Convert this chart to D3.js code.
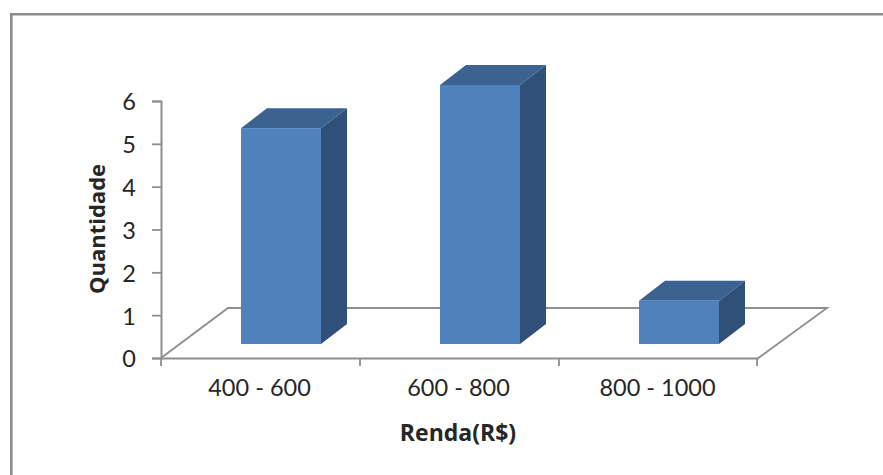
<!DOCTYPE html>
<html>
<head>
<meta charset="utf-8">
<script src="https://cdn.jsdelivr.net/npm/d3@7"></script>
<style>
  html, body { margin: 0; padding: 0; background: #fff; }
  svg { display: block; }
  text { font-family: Lato, "Open Sans", sans-serif; fill: #262626; }
</style>
</head>
<body>
<svg id="chart" width="883" height="475"></svg>
<script>
const categories = ["400 - 600", "600 - 800", "800 - 1000"];
const values = [5, 6, 1];
const yTicks = [0, 1, 2, 3, 4, 5, 6];
const xTitle = "Renda(R$)";
const yTitle = "Quantidade";

const svg = d3.select("#chart");

// Chart frame: left and top edges only
svg.append("path")
  .attr("d", "M11.3,475V14.3H883")
  .attr("fill", "none").attr("stroke", "#8c8c8c").attr("stroke-width", 2.6);

// Axis scales sit on the front plane of the floor
const x = d3.scaleBand().domain(categories).range([161, 758]).paddingInner(0).paddingOuter(0);
const yAxisScale = d3.scaleLinear().domain([0, 6]).range([358, 101]);
// Bars stand further back, so their baseline is higher on the page
const yBar = d3.scaleLinear().domain([0, 6]).range([344, 85]);

// Oblique projection used for the depth of the floor and bars
const floorDx = 69, floorDy = -50;
const barDx = 26, barDy = -20;
const barWidth = 80, barShift = 20.5;

const axisColor = "#8e8e8e";

// Floor outline
const [fx0, fx1] = x.range();
const fy = yAxisScale(0);
svg.append("path")
  .attr("d", d3.line()([
    [fx0, fy], [fx0 + floorDx - 2, fy + floorDy],
    [fx1 + floorDx, fy + floorDy], [fx1 - 1, fy + 1]
  ]))
  .attr("fill", "none").attr("stroke", axisColor).attr("stroke-width", 1.8);

// Y axis
const yAxis = svg.append("g")
  .attr("transform", `translate(${fx0},0)`)
  .call(d3.axisLeft(yAxisScale).tickValues(yTicks).tickSize(9).tickPadding(16).tickFormat(d3.format("d")));
// X axis: ticks mark band edges, labels sit at band centres
const xAxis = svg.append("g")
  .attr("transform", `translate(0,${fy})`)
  .call(d3.axisBottom(x).tickSize(0).tickPadding(21));

[yAxis, xAxis].forEach(g => {
  g.selectAll(".domain").attr("stroke", axisColor).attr("stroke-width", 2);
  g.selectAll("line").attr("stroke", axisColor).attr("stroke-width", 1.8);
  g.selectAll("text").attr("font-size", 23.5).style("fill", "#262626");
});
yAxis.selectAll("text").attr("dy", "0.38em");
xAxis.selectAll("text").attr("dx", -1);

xAxis.selectAll("line.edge")
  .data([...categories.map(c => x(c)), fx1 - 1])
  .join("line").attr("class", "edge")
  .attr("x1", d => d).attr("x2", d => d)
  .attr("y1", 0).attr("y2", 8)
  .attr("stroke", axisColor).attr("stroke-width", 1.8);

// 3D bars: front, side and top faces
const bars = svg.append("g").selectAll("g")
  .data(categories.map((c, i) => ({ c, v: values[i] })))
  .join("g");

const bx = d => x(d.c) + (x.bandwidth() - barWidth) / 2 + barShift;

bars.append("path").attr("fill", "#2f5079")
  .attr("d", d => d3.line()([
    [bx(d) + barWidth, yBar(d.v)],
    [bx(d) + barWidth + barDx, yBar(d.v) + barDy],
    [bx(d) + barWidth + barDx, yBar(0) + barDy],
    [bx(d) + barWidth, yBar(0)]
  ]) + "Z");

bars.append("path").attr("fill", "#3b6291")
  .attr("d", d => d3.line()([
    [bx(d), yBar(d.v)],
    [bx(d) + barDx, yBar(d.v) + barDy],
    [bx(d) + barWidth + barDx, yBar(d.v) + barDy],
    [bx(d) + barWidth, yBar(d.v)]
  ]) + "Z");

bars.append("rect").attr("fill", "#4f81bd")
  .attr("x", bx).attr("y", d => yBar(d.v))
  .attr("width", barWidth)
  .attr("height", d => yBar(0) - yBar(d.v));

// Axis titles
svg.append("text")
  .attr("x", 458).attr("y", 441)
  .attr("text-anchor", "middle").attr("font-size", 23).attr("font-weight", 700)
  .style("font-family", "'Open Sans', sans-serif")
  .text(xTitle);
svg.append("text")
  .attr("transform", "translate(105,229) rotate(-90)")
  .attr("text-anchor", "middle").attr("font-size", 22).attr("font-weight", 700)
  .style("font-family", "'Open Sans', sans-serif")
  .text(yTitle);
</script>
</body>
</html>
